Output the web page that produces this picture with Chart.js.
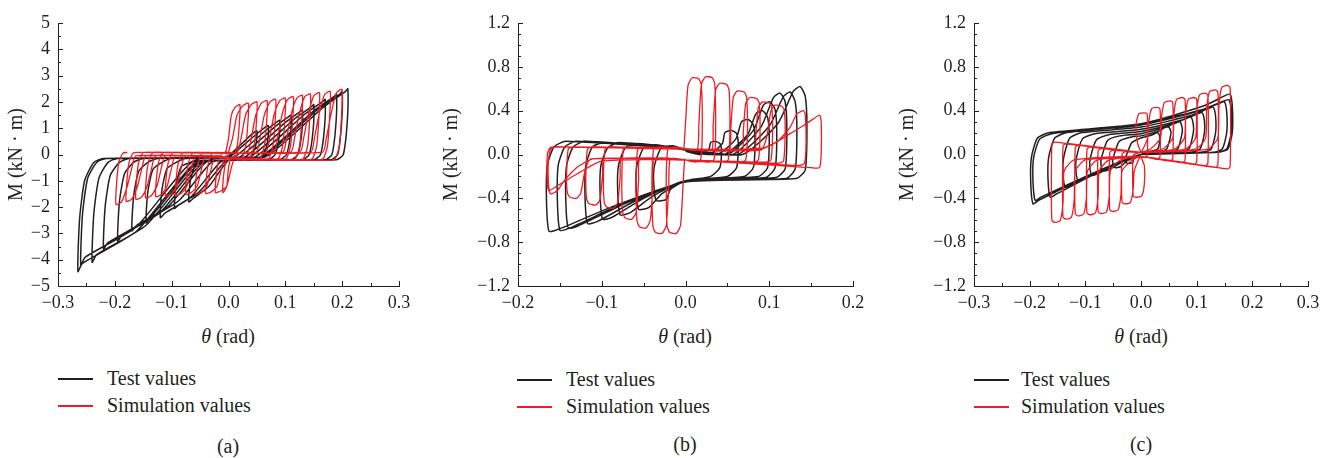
<!DOCTYPE html>
<html>
<head>
<meta charset="utf-8">
<script src="https://cdn.jsdelivr.net/npm/chart.js@4.4.1/dist/chart.umd.min.js"></script>
<style>
  body { margin: 0; width: 1337px; height: 458px; background: #fff; position: relative; overflow: hidden;
         font-family: "Liberation Serif", "DejaVu Serif", serif; color: #231f20; }
  canvas { position: absolute; top: 0; }
  .txt { position: absolute; font-size: 20px; line-height: 24px; white-space: nowrap; }
  .mid { transform: translateX(-50%); }
  .key { position: absolute; width: 35px; height: 1.5px; }
</style>
</head>
<body>
<canvas id="chart-a" width="420" height="318" style="left:0px"></canvas>
<canvas id="chart-b" width="434" height="318" style="left:440px"></canvas>
<canvas id="chart-c" width="433" height="318" style="left:896px"></canvas>

<div class="txt mid" style="left:228px;top:324px"><i>θ</i> (rad)</div>
<div class="txt mid" style="left:685px;top:324px"><i>θ</i> (rad)</div>
<div class="txt mid" style="left:1141px;top:324px"><i>θ</i> (rad)</div>

<div class="key" style="left:58px;top:378px;background:#231f20"></div>
<div class="txt" style="left:107px;top:366px">Test values</div>
<div class="key" style="left:58px;top:405px;background:#ed1c24"></div>
<div class="txt" style="left:107px;top:393px">Simulation values</div>

<div class="key" style="left:517px;top:379px;background:#231f20"></div>
<div class="txt" style="left:566px;top:367px">Test values</div>
<div class="key" style="left:517px;top:406px;background:#ed1c24"></div>
<div class="txt" style="left:566px;top:394px">Simulation values</div>

<div class="key" style="left:974px;top:379px;background:#231f20"></div>
<div class="txt" style="left:1021px;top:367px">Test values</div>
<div class="key" style="left:974px;top:406px;background:#ed1c24"></div>
<div class="txt" style="left:1021px;top:394px">Simulation values</div>

<div class="txt mid" style="left:228px;top:434px">(a)</div>
<div class="txt mid" style="left:685px;top:432px">(b)</div>
<div class="txt mid" style="left:1141px;top:432px">(c)</div>

<script>
// axis ticks
let thetaTicksA = [-0.3, -0.2, -0.1, 0, 0.1, 0.2, 0.3]
let momentTicksA = [-5, -4, -3, -2, -1, 0, 1, 2, 3, 4, 5]
let thetaTicksB = [-0.2, -0.1, 0, 0.1, 0.2]
let momentTicksB = [-1.2, -0.8, -0.4, 0, 0.4, 0.8, 1.2]
let thetaTicksC = [-0.3, -0.2, -0.1, 0, 0.1, 0.2, 0.3]
let momentTicksC = [-1.2, -0.8, -0.4, 0, 0.4, 0.8, 1.2]

// (a) test values, [theta, M], cycle after cycle
let testA = [
	[0,-0.12],[0,-0.08],[0.035,0.65],[0.046,0.86],[0.05,0.9],[0.049,0.45],[0.042,0],[0.03,-0.2],[0,-0.22],[-0.035,-1.23],[-0.062,-1.67],[-0.07,-1.8],[-0.067,-0.99],[-0.058,-0.4],[-0.042,-0.3],[-0.025,-0.15],
	[0,-0.12],[0.003,-0.08],[0.05,0.79],[0.066,1.06],[0.07,1.1],[0.069,0.55],[0.062,0],[0.05,-0.2],[0,-0.22],[-0.008,-0.3],[-0.0515,-1.42],[-0.087,-1.91],[-0.095,-2.05],[-0.092,-1.13],[-0.083,-0.45],[-0.067,-0.3],[-0.05,-0.15],
	[0,-0.12],[0.012,-0.08],[0.067,0.94],[0.086,1.25],[0.09,1.3],[0.089,0.65],[0.082,0],[0.07,-0.2],[0,-0.22],[-0.015,-0.3],[-0.0675,-1.64],[-0.112,-2.23],[-0.12,-2.4],[-0.117,-1.32],[-0.108,-0.53],[-0.092,-0.3],[-0.075,-0.15],
	[0,-0.12],[0.021,-0.08],[0.083,1.08],[0.106,1.44],[0.11,1.5],[0.109,0.75],[0.102,0],[0.09,-0.2],[0,-0.22],[-0.03,-0.3],[-0.0875,-1.76],[-0.137,-2.42],[-0.145,-2.6],[-0.142,-1.43],[-0.133,-0.57],[-0.117,-0.3],[-0.1,-0.15],
	[0,-0.12],[0.03,-0.08],[0.1,1.22],[0.126,1.63],[0.13,1.7],[0.129,0.85],[0.122,0],[0.11,-0.2],[0,-0.22],[-0.04,-0.3],[-0.105,-1.95],[-0.162,-2.7],[-0.17,-2.9],[-0.167,-1.6],[-0.158,-0.64],[-0.142,-0.3],[-0.125,-0.15],
	[0,-0.12],[0.039,-0.08],[0.117,1.37],[0.146,1.82],[0.15,1.9],[0.149,0.95],[0.142,0],[0.13,-0.2],[0,-0.22],[-0.045,-0.3],[-0.12,-2.2],[-0.187,-3.07],[-0.195,-3.3],[-0.192,-1.82],[-0.183,-0.73],[-0.167,-0.3],[-0.15,-0.15],
	[0,-0.12],[0.048,-0.08],[0.133,1.51],[0.166,2.02],[0.17,2.1],[0.169,1.05],[0.162,0],[0.15,-0.2],[0,-0.22],[-0.055,-0.3],[-0.1375,-2.38],[-0.212,-3.35],[-0.22,-3.6],[-0.217,-1.98],[-0.208,-0.79],[-0.192,-0.3],[-0.175,-0.15],
	[0,-0.12],[0.057,-0.08],[0.15,1.66],[0.186,2.21],[0.19,2.3],[0.189,1.15],[0.182,0],[0.17,-0.2],[0,-0.22],[-0.05,-0.3],[-0.145,-2.69],[-0.232,-3.81],[-0.24,-4.1],[-0.237,-2.26],[-0.228,-0.9],[-0.212,-0.3],[-0.195,-0.15],
	[0,-0.12],[0.061,-0.08],[0.158,1.73],[0.196,2.3],[0.2,2.4],[0.199,1.2],[0.192,0],[0.18,-0.2],[0,-0.22],[-0.065,-0.3],[-0.1625,-2.75],[-0.252,-3.9],[-0.26,-4.2],[-0.257,-2.31],[-0.248,-0.92],[-0.232,-0.3],[-0.215,-0.15],
	[0,-0.12],[0.066,-0.08],[0.167,1.8],[0.206,2.4],[0.21,2.5],[0.209,1.25],[0.202,0],[0.19,-0.2],[0,-0.22],[-0.058,-0.3],[-0.1615,-2.91],[-0.257,-4.14],[-0.265,-4.45],[-0.262,-2.45],[-0.253,-0.98],[-0.237,-0.3],[-0.22,-0.15],[0,-0.12],
]

// (a) simulation values
let simA = [
	[-0.005,0.08],[0,0.6],[0.005,1.5],[0.012,1.8],[0.02,1.9],[0.019,1.14],[0.015,0.3],[0.008,-0.15],[0,-0.22],
	[0.004,-0.1],[0,-0.5],[-0.003,-1.2],[-0.007,-1.38],[-0.01,-1.45],[-0.009,-0.87],[-0.005,-0.3],[0,0.05],[0.005,0.08],
	[0,0.08],[0.007,0.6],[0.015,1.5],[0.025,1.85],[0.035,1.95],[0.034,1.17],[0.03,0.3],[0.023,-0.15],[0.015,-0.22],
	[0.012,-0.05],[0.005,-0.5],[-0.003,-1.2],[-0.013,-1.38],[-0.023,-1.45],[-0.022,-0.87],[-0.018,-0.3],[-0.011,0.05],[-0.003,0.08],
	[0.015,0.08],[0.022,0.6],[0.03,1.5],[0.04,1.9],[0.05,2.0],[0.049,1.2],[0.045,0.3],[0.038,-0.15],[0.03,-0.22],
	[0,-0.12],[-0.005,-0.05],[-0.012,-0.5],[-0.02,-1.2],[-0.03,-1.41],[-0.04,-1.48],[-0.039,-0.89],[-0.035,-0.3],[-0.028,0.05],[-0.02,0.08],
	[0.033,0.08],[0.04,0.6],[0.048,1.5],[0.058,1.95],[0.068,2.05],[0.067,1.23],[0.063,0.3],[0.056,-0.15],[0.048,-0.22],
	[0,-0.12],[-0.023,-0.05],[-0.03,-0.5],[-0.038,-1.2],[-0.048,-1.43],[-0.058,-1.5],[-0.057,-0.9],[-0.053,-0.3],[-0.046,0.05],[-0.038,0.08],
	[0.048,0.08],[0.055,0.6],[0.063,1.5],[0.073,2.0],[0.083,2.1],[0.082,1.26],[0.078,0.3],[0.071,-0.15],[0.063,-0.22],
	[0,-0.12],[-0.04,-0.05],[-0.047,-0.5],[-0.055,-1.2],[-0.065,-1.44],[-0.075,-1.52],[-0.074,-0.91],[-0.07,-0.3],[-0.063,0.05],[-0.055,0.08],
	[0.065,0.08],[0.072,0.6],[0.08,1.5],[0.09,2.04],[0.1,2.15],[0.099,1.29],[0.095,0.3],[0.088,-0.15],[0.08,-0.22],
	[0,-0.12],[-0.058,-0.05],[-0.065,-0.5],[-0.073,-1.2],[-0.083,-1.47],[-0.093,-1.55],[-0.092,-0.93],[-0.088,-0.3],[-0.081,0.05],[-0.073,0.08],
	[0.079,0.08],[0.086,0.6],[0.094,1.5],[0.104,2.09],[0.114,2.2],[0.113,1.32],[0.109,0.3],[0.102,-0.15],[0.094,-0.22],
	[0,-0.12],[-0.076,-0.05],[-0.083,-0.5],[-0.091,-1.2],[-0.101,-1.5],[-0.111,-1.58],[-0.11,-0.95],[-0.106,-0.3],[-0.099,0.05],[-0.091,0.08],
	[0.095,0.08],[0.102,0.6],[0.11,1.5],[0.12,2.14],[0.13,2.25],[0.129,1.35],[0.125,0.3],[0.118,-0.15],[0.11,-0.22],
	[0,-0.12],[-0.093,-0.05],[-0.1,-0.5],[-0.108,-1.2],[-0.118,-1.52],[-0.128,-1.6],[-0.127,-0.96],[-0.123,-0.3],[-0.116,0.05],[-0.108,0.08],
	[0.109,0.08],[0.116,0.6],[0.124,1.5],[0.134,2.19],[0.144,2.3],[0.143,1.38],[0.139,0.3],[0.132,-0.15],[0.124,-0.22],
	[0,-0.12],[-0.111,-0.05],[-0.118,-0.5],[-0.126,-1.2],[-0.136,-1.57],[-0.146,-1.65],[-0.145,-0.99],[-0.141,-0.3],[-0.134,0.05],[-0.126,0.08],
	[0.125,0.08],[0.132,0.6],[0.14,1.5],[0.15,2.23],[0.16,2.35],[0.159,1.41],[0.155,0.3],[0.148,-0.15],[0.14,-0.22],
	[0,-0.12],[-0.128,-0.05],[-0.135,-0.5],[-0.143,-1.2],[-0.153,-1.62],[-0.163,-1.7],[-0.162,-1.02],[-0.158,-0.3],[-0.151,0.05],[-0.143,0.08],
	[0.144,0.08],[0.151,0.6],[0.159,1.5],[0.169,2.28],[0.179,2.4],[0.178,1.44],[0.174,0.3],[0.167,-0.15],[0.159,-0.22],
	[0,-0.12],[-0.145,-0.05],[-0.152,-0.5],[-0.16,-1.2],[-0.17,-1.69],[-0.18,-1.78],[-0.179,-1.07],[-0.175,-0.3],[-0.168,0.05],[-0.16,0.08],
	[0.165,0.08],[0.172,0.6],[0.18,1.5],[0.19,2.35],[0.2,2.47],[0.199,1.48],[0.195,0.3],[0.188,-0.15],[0.18,-0.22],
	[0,-0.12],[-0.163,-0.05],[-0.17,-0.5],[-0.178,-1.2],[-0.188,-1.8],[-0.198,-1.9],[-0.197,-1.14],[-0.193,-0.3],[-0.186,0.05],[-0.178,0.08],
]

// (b) test values
let testB = [
	[0,0.03],[0.018,0],[0.028,0.05],[0.03,0.11],[0.035,0.12],[0.041,0.1],[0.043,0.05],[0.041,-0.12],[0.03,-0.2],[0,-0.24],
	[-0.018,-0.32],[-0.023,-0.41],[-0.035,-0.42],[-0.038,-0.25],[-0.037,-0.1],[-0.029,0.06],[-0.015,0.08],
	[0,0.04],[0.028,0],[0.044,0.1],[0.047,0.2],[0.055,0.22],[0.061,0.19],[0.063,0.09],[0.061,-0.12],[0.05,-0.2],[0,-0.24],
	[-0.028,-0.357],[-0.044,-0.485],[-0.056,-0.5],[-0.059,-0.3],[-0.058,-0.1],[-0.05,0.06],[-0.036,0.09],
	[0,0.04],[0.038,0],[0.06,0.14],[0.067,0.3],[0.075,0.32],[0.081,0.27],[0.083,0.13],[0.081,-0.12],[0.07,-0.2],[0,-0.24],
	[-0.039,-0.38],[-0.066,-0.53],[-0.078,-0.55],[-0.081,-0.33],[-0.08,-0.1],[-0.072,0.06],[-0.058,0.1],
	[0,0.05],[0.046,0],[0.074,0.18],[0.084,0.37],[0.092,0.4],[0.098,0.34],[0.1,0.16],[0.098,-0.12],[0.087,-0.2],[0,-0.24],
	[-0.05,-0.4],[-0.087,-0.57],[-0.099,-0.59],[-0.102,-0.35],[-0.101,-0.1],[-0.093,0.06],[-0.079,0.11],
	[0,0.05],[0.05,0],[0.081,0.22],[0.093,0.45],[0.101,0.48],[0.107,0.41],[0.109,0.19],[0.107,-0.12],[0.096,-0.21],[0,-0.25],
	[-0.059,-0.42],[-0.105,-0.61],[-0.117,-0.63],[-0.12,-0.38],[-0.119,-0.1],[-0.111,0.07],[-0.097,0.11],
	[0,0.05],[0.056,0],[0.09,0.25],[0.105,0.52],[0.113,0.56],[0.119,0.48],[0.121,0.22],[0.119,-0.13],[0.108,-0.21],[0,-0.25],
	[-0.07,-0.44],[-0.128,-0.65],[-0.14,-0.67],[-0.143,-0.4],[-0.142,-0.1],[-0.134,0.07],[-0.12,0.12],
	[0,0.05],[0.062,0],[0.1,0.26],[0.117,0.53],[0.125,0.57],[0.131,0.48],[0.133,0.23],[0.131,-0.13],[0.12,-0.22],[0,-0.25],
	[-0.075,-0.45],[-0.138,-0.67],[-0.15,-0.69],[-0.153,-0.41],[-0.152,-0.1],[-0.144,0.07],[-0.13,0.12],
	[0,0.05],[0.068,0],[0.11,0.28],[0.129,0.58],[0.137,0.62],[0.143,0.53],[0.145,0.25],[0.143,-0.14],[0.132,-0.22],[0,-0.25],
	[-0.082,-0.46],[-0.151,-0.68],[-0.163,-0.7],[-0.166,-0.42],[-0.165,-0.1],[-0.157,0.07],[-0.143,0.12],[0,0.05],
]

// (b) simulation values
let simB = [
	[-0.002,0.04],[0,0.28],[0.003,0.63],[0.008,0.7],[0.016,0.69],[0.019,0.63],[0.02,0.2],[0.018,-0.05],[0.012,-0.07],[0,-0.05],
	[-0.001,-0.04],[-0.003,-0.29],[-0.006,-0.65],[-0.011,-0.72],[-0.019,-0.71],[-0.022,-0.65],[-0.023,-0.2],[-0.021,0.05],[-0.015,0.07],[0,0.05],
	[0.014,0.04],[0.016,0.28],[0.019,0.64],[0.024,0.71],[0.032,0.7],[0.035,0.64],[0.036,0.2],[0.034,-0.05],[0.028,-0.07],[0,-0.05],
	[-0.018,-0.04],[-0.02,-0.29],[-0.023,-0.65],[-0.028,-0.72],[-0.036,-0.71],[-0.039,-0.65],[-0.04,-0.2],[-0.038,0.05],[-0.032,0.07],[0,0.05],
	[0.031,0.04],[0.033,0.26],[0.036,0.59],[0.041,0.65],[0.049,0.64],[0.052,0.59],[0.053,0.2],[0.051,-0.05],[0.045,-0.07],[0,-0.05],
	[-0.037,-0.04],[-0.039,-0.27],[-0.042,-0.6],[-0.047,-0.67],[-0.055,-0.66],[-0.058,-0.6],[-0.059,-0.2],[-0.057,0.05],[-0.051,0.07],[0,0.05],
	[0.052,0.04],[0.054,0.23],[0.057,0.52],[0.062,0.58],[0.07,0.57],[0.073,0.52],[0.074,0.2],[0.072,-0.05],[0.066,-0.07],[0,-0.05],
	[-0.054,-0.04],[-0.056,-0.24],[-0.059,-0.53],[-0.064,-0.59],[-0.072,-0.58],[-0.075,-0.53],[-0.076,-0.2],[-0.074,0.05],[-0.068,0.07],[0,0.05],
	[0.067,0.04],[0.069,0.21],[0.072,0.47],[0.077,0.52],[0.085,0.51],[0.088,0.47],[0.089,0.2],[0.087,-0.05],[0.081,-0.07],[0,-0.05],
	[-0.076,-0.04],[-0.078,-0.2],[-0.081,-0.44],[-0.086,-0.49],[-0.094,-0.48],[-0.097,-0.44],[-0.098,-0.2],[-0.096,0.05],[-0.09,0.07],[0,0.05],
	[0.082,0.04],[0.084,0.19],[0.087,0.43],[0.092,0.48],[0.1,0.47],[0.103,0.43],[0.104,0.2],[0.102,-0.05],[0.096,-0.07],[0,-0.05],
	[-0.097,-0.04],[-0.099,-0.18],[-0.102,-0.41],[-0.107,-0.46],[-0.115,-0.45],[-0.118,-0.41],[-0.119,-0.2],[-0.117,0.05],[-0.111,0.07],[0,0.05],
	[0.09,0.04],[0.097,0.16],[0.102,0.4],[0.107,0.45],[0.115,0.44],[0.118,0.4],[0.119,0.2],[0.117,-0.06],[0.11,-0.08],[0,-0.05],
	[-0.113,-0.04],[-0.12,-0.15],[-0.125,-0.35],[-0.13,-0.4],[-0.138,-0.39],[-0.141,-0.35],[-0.142,-0.2],[-0.14,0.05],[-0.134,0.07],[0,0.05],
	[0.09,0.05],[0.11,0.12],[0.125,0.25],[0.133,0.37],[0.141,0.4],[0.143,0.36],[0.144,0.1],[0.142,-0.08],[0.135,-0.1],[0,-0.05],
	[-0.11,-0.04],[-0.13,-0.12],[-0.145,-0.24],[-0.153,-0.33],[-0.161,-0.36],[-0.163,-0.32],[-0.164,-0.1],[-0.161,0.05],[-0.154,0.07],[0,0.05],
	[0.093,0.06],[0.125,0.19],[0.148,0.3],[0.16,0.36],[0.162,0.3],[0.162,0],[0.16,-0.12],[0.15,-0.12],[0,-0.05],
	[-0.1,-0.06],[-0.13,-0.18],[-0.152,-0.28],[-0.163,-0.33],[-0.165,-0.28],[-0.165,0],[-0.162,0.06],[-0.155,0.07],[0,0.05],
]

// (c) test values
let testC = [
	[0,0],[-0.0125,-0.036],[-0.015,-0.074],[-0.025,-0.08],[-0.029,-0.048],[-0.028,-0.03],[-0.017,0.105],[-0.005,0.14],[0,0.15],[0.021,0.18],[0.03,0.2],[0.034,0.16],[0.03,0.05],[0.01,0.02],
	[0,0],[-0.024,-0.054],[-0.037,-0.112],[-0.047,-0.12],[-0.051,-0.072],[-0.05,-0.03],[-0.039,0.12],[-0.017,0.16],[0,0.17],[0.035,0.218],[0.042,0.245],[0.05,0.25],[0.054,0.2],[0.046,0.05],[0.03,0.02],
	[0,0],[-0.034,-0.068],[-0.058,-0.14],[-0.068,-0.15],[-0.072,-0.09],[-0.071,-0.03],[-0.06,0.128],[-0.038,0.17],[0,0.19],[0.049,0.256],[0.062,0.294],[0.07,0.3],[0.074,0.24],[0.074,0.2],[0.066,0.05],[0.05,0.02],
	[0,0],[-0.044,-0.086],[-0.078,-0.177],[-0.088,-0.19],[-0.092,-0.114],[-0.091,-0.03],[-0.08,0.135],[-0.058,0.18],[0,0.21],[0.063,0.288],[0.082,0.333],[0.09,0.34],[0.094,0.272],[0.094,0.2],[0.086,0.05],[0.07,0.02],
	[0,0],[-0.057,-0.108],[-0.103,-0.223],[-0.113,-0.24],[-0.117,-0.144],[-0.116,-0.03],[-0.105,0.143],[-0.083,0.19],[0,0.23],[0.077,0.32],[0.102,0.372],[0.11,0.38],[0.114,0.304],[0.114,0.2],[0.106,0.05],[0.09,0.02],
	[0,0],[-0.068,-0.135],[-0.126,-0.279],[-0.136,-0.3],[-0.14,-0.18],[-0.139,-0.03],[-0.128,0.15],[-0.106,0.2],[0,0.25],[0.091,0.358],[0.122,0.421],[0.13,0.43],[0.134,0.344],[0.134,0.2],[0.126,0.05],[0.11,0.02],
	[0,0],[-0.082,-0.176],[-0.153,-0.363],[-0.163,-0.39],[-0.167,-0.234],[-0.166,-0.03],[-0.155,0.15],[-0.133,0.2],[0,0.27],[0.105,0.396],[0.142,0.47],[0.15,0.48],[0.154,0.384],[0.154,0.2],[0.146,0.05],[0.13,0.02],
	[0,0],[-0.097,-0.203],[-0.184,-0.419],[-0.194,-0.45],[-0.198,-0.27],[-0.197,-0.03],[-0.186,0.15],[-0.164,0.2],[0,0.28],[0.112,0.442],[0.152,0.539],[0.16,0.55],[0.164,0.44],[0.164,0.2],[0.156,0.05],[0.14,0.02],
	[0,0],[-0.095,-0.19],[-0.18,-0.39],[-0.19,-0.42],[-0.194,-0.25],[-0.193,-0.03],[-0.182,0.14],[-0.16,0.19],[0,0.28],[0.111,0.412],[0.15,0.49],[0.158,0.5],[0.162,0.4],[0.162,0.2],[0.154,0.05],[0.138,0.02],[0,0],
]

// (c) simulation values
let simC = [
	[0,0.02],[-0.006,0.1],[-0.009,0.27],[-0.004,0.37],[0.006,0.38],[0.011,0.37],[0.012,0.19],[0.011,-0.008],[0.006,-0.028],[0,-0.02],
	[0.006,-0.1],[0.006,-0.27],[0.001,-0.38],[-0.009,-0.39],[-0.014,-0.38],[-0.015,-0.2],[-0.014,-0.01],[-0.009,0.01],[0,0.02],
	[0.012,0.15],[0.014,0.3],[0.019,0.417],[0.029,0.43],[0.034,0.417],[0.035,0.215],[0.034,-0.024],[0.029,-0.044],[0,-0.02],
	[-0.012,-0.15],[-0.014,-0.315],[-0.019,-0.437],[-0.029,-0.45],[-0.034,-0.437],[-0.035,-0.225],[-0.034,0.004],[-0.029,0.024],[0,0.02],
	[0.017,0.05],[0.035,0.15],[0.037,0.343],[0.042,0.475],[0.052,0.49],[0.057,0.475],[0.058,0.245],[0.057,-0.04],[0.052,-0.06],[0,-0.02],
	[-0.016,-0.05],[-0.034,-0.15],[-0.036,-0.364],[-0.041,-0.504],[-0.051,-0.52],[-0.056,-0.504],[-0.057,-0.26],[-0.056,0.019],[-0.051,0.039],[0,0.02],
	[0.039,0.05],[0.057,0.15],[0.059,0.364],[0.064,0.504],[0.074,0.52],[0.079,0.504],[0.08,0.26],[0.079,-0.055],[0.074,-0.075],[0,-0.02],
	[-0.037,-0.05],[-0.055,-0.15],[-0.057,-0.378],[-0.062,-0.524],[-0.072,-0.54],[-0.077,-0.524],[-0.078,-0.27],[-0.077,0.034],[-0.072,0.054],[0,0.02],
	[0.06,0.05],[0.078,0.15],[0.08,0.364],[0.085,0.504],[0.095,0.52],[0.1,0.504],[0.101,0.26],[0.1,-0.07],[0.095,-0.09],[0,-0.02],
	[-0.057,-0.05],[-0.075,-0.15],[-0.077,-0.385],[-0.082,-0.534],[-0.092,-0.55],[-0.097,-0.534],[-0.098,-0.275],[-0.097,0.048],[-0.092,0.068],[0,0.02],
	[0.08,0.05],[0.098,0.15],[0.1,0.392],[0.105,0.543],[0.115,0.56],[0.12,0.543],[0.121,0.28],[0.12,-0.084],[0.115,-0.104],[0,-0.02],
	[-0.078,-0.05],[-0.096,-0.15],[-0.098,-0.392],[-0.103,-0.543],[-0.113,-0.56],[-0.118,-0.543],[-0.119,-0.28],[-0.118,0.063],[-0.113,0.083],[0,0.02],
	[0.098,0.05],[0.116,0.15],[0.118,0.413],[0.123,0.572],[0.133,0.59],[0.138,0.572],[0.139,0.295],[0.138,-0.097],[0.133,-0.117],[0,-0.02],
	[-0.1,-0.05],[-0.118,-0.15],[-0.12,-0.413],[-0.125,-0.572],[-0.135,-0.59],[-0.14,-0.572],[-0.141,-0.295],[-0.14,0.078],[-0.135,0.098],[0,0.02],
	[0.12,0.05],[0.138,0.15],[0.14,0.441],[0.145,0.611],[0.155,0.63],[0.16,0.611],[0.161,0.315],[0.16,-0.112],[0.155,-0.132],[0,-0.02],
	[-0.12,-0.05],[-0.138,-0.15],[-0.14,-0.434],[-0.145,-0.601],[-0.155,-0.62],[-0.16,-0.601],[-0.161,-0.31],[-0.16,0.092],[-0.155,0.112],[0,0.02],
]

const ink = '#231f20'
const red = '#ed1c24'
const serif = '"Liberation Serif", "DejaVu Serif", serif'

// 0.0 / −0.4 style labels
let fmt = (v, digits) => {
	if (Math.abs(v) < 1e-9) return (0).toFixed(digits)
	return v.toFixed(digits).replace('-', '\u2212')
}

// ticks in this figure point into the plot, with small ones between
const insideTicks = {
	id: 'insideTicks',
	afterDraw(chart, args, opts) {
		const { ctx, chartArea: area, scales } = chart
		ctx.save()
		ctx.strokeStyle = ink
		ctx.lineWidth = 1
		ctx.beginPath()
		let mark = (scale, values, sub) => {
			for (let i = 0; i < values.length; i++) {
				let list = [[values[i], 5]]
				if (i < values.length - 1) {
					for (let k = 1; k < sub; k++) list.push([values[i] + (values[i + 1] - values[i]) * k / sub, 3])
				}
				list.forEach(([v, len]) => {
					let p = Math.round(scale.getPixelForValue(v)) + 0.5
					if (scale.axis === 'x') {
						ctx.moveTo(p, area.bottom); ctx.lineTo(p, area.bottom - len)
					} else {
						ctx.moveTo(area.left, p); ctx.lineTo(area.left + len, p)
					}
				})
			}
		}
		mark(scales.x, opts.xTicks, opts.xSub)
		mark(scales.y, opts.yTicks, opts.ySub)
		ctx.stroke()
		ctx.restore()
	}
}

let toPoints = rows => rows.map(r => ({ x: r[0], y: r[1] }))

// Build one panel
let buildChart = (id, test, sim, xTicks, yTicks, yDigits, ySub, yWidth, titlePad) => {
	return new Chart(document.getElementById(id), {
		type: 'scatter',
		data: {
			datasets: [
				{ label: 'Simulation values', data: toPoints(sim), showLine: true, borderColor: red, borderWidth: 1.3, pointRadius: 0, tension: 0.2, order: 0 },
				{ label: 'Test values', data: toPoints(test), showLine: true, borderColor: ink, borderWidth: 1.5, pointRadius: 0, tension: 0.2, order: 1 },
			]
		},
		options: {
			responsive: false,
			animation: false,
			devicePixelRatio: 1,
			layout: { padding: { top: 23, right: 21, left: 0, bottom: 0 } },
			plugins: {
				legend: { display: false },
				tooltip: { enabled: false },
				insideTicks: { xTicks, yTicks, xSub: 2, ySub },
			},
			scales: {
				x: {
					type: 'linear',
					min: xTicks[0], max: xTicks[xTicks.length - 1],
					afterBuildTicks: s => { s.ticks = xTicks.map(v => ({ value: v })) },
					afterFit: s => { s.height = 32 },
					ticks: { callback: v => fmt(v, 1), font: { family: serif, size: 18 }, color: ink, padding: 6, maxRotation: 0, autoSkip: false },
					grid: { drawOnChartArea: false, drawTicks: false },
					border: { display: true, color: ink, width: 1 },
				},
				y: {
					type: 'linear',
					min: yTicks[0], max: yTicks[yTicks.length - 1],
					afterBuildTicks: s => { s.ticks = yTicks.map(v => ({ value: v })) },
					afterFit: s => { s.width = yWidth },
					ticks: { callback: v => fmt(v, yDigits), font: { family: serif, size: 18 }, color: ink, padding: 8, autoSkip: false },
					grid: { drawOnChartArea: false, drawTicks: false },
					border: { display: true, color: ink, width: 1 },
					title: { display: true, text: 'M (kN \u00b7 m)', font: { family: serif, size: 20 }, color: ink, padding: { top: titlePad, bottom: 0 } },
				}
			}
		},
		plugins: [insideTicks],
	})
}

buildChart('chart-a', testA, simA, thetaTicksA, momentTicksA, 0, 2, 58, 5)
buildChart('chart-b', testB, simB, thetaTicksB, momentTicksB, 1, 4, 78, 0)
buildChart('chart-c', testC, simC, thetaTicksC, momentTicksC, 1, 4, 78, 0)
</script>
</body>
</html>
